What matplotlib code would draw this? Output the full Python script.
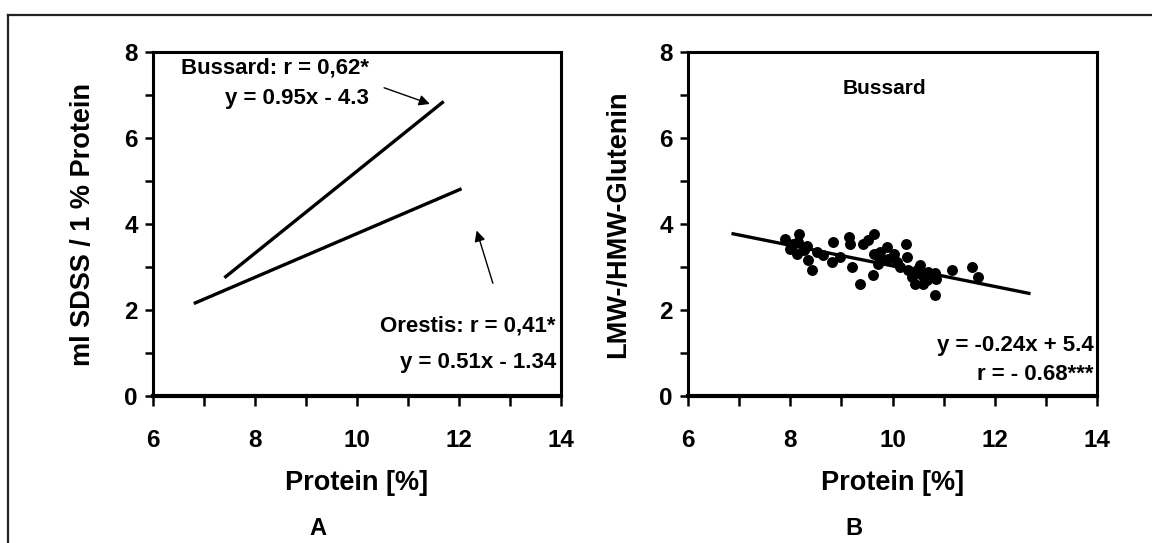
import matplotlib
matplotlib.use("Agg")
import matplotlib.pyplot as plt
from matplotlib.lines import Line2D
from matplotlib.ticker import MultipleLocator

plt.rcParams['font.family'] = ['Liberation Sans', 'DejaVu Sans']
plt.rcParams['font.weight'] = 'bold'

# ---- Data ----
# Panel A: regression lines (endpoints)
bussard_x = [7.4, 11.7]
bussard_y = [2.75, 6.85]
orestis_x = [6.8, 12.05]
orestis_y = [2.15, 4.82]

# Panel B: scatter (Bussard) and regression line
scatter_x = [7.90, 8.18, 8.00, 8.16, 8.13, 8.32, 8.35, 8.42, 8.52, 8.65,
             8.83, 8.81, 8.97, 9.14, 9.17, 9.20, 9.37, 9.43, 9.53, 9.63,
             9.61, 9.63, 9.72, 9.76, 9.89, 9.92, 10.02, 10.08, 10.15, 10.27,
             10.28, 10.31, 10.38, 10.44, 10.54, 10.57, 10.67, 10.70, 10.83, 10.83,
             10.85, 11.16, 11.55, 11.68, 8.06, 8.26, 9.76, 10.48, 10.60]
scatter_y = [3.66, 3.77, 3.43, 3.58, 3.31, 3.50, 3.17, 2.92, 3.35, 3.27,
             3.58, 3.12, 3.23, 3.70, 3.54, 2.99, 2.61, 3.54, 3.62, 3.77,
             2.81, 3.31, 3.08, 3.35, 3.46, 3.19, 3.31, 3.12, 3.00, 3.54,
             3.23, 2.92, 2.77, 2.61, 3.04, 2.81, 2.69, 2.88, 2.85, 2.34,
             2.73, 2.92, 3.00, 2.77, 3.54, 3.39, 3.19, 2.92, 2.61]
fit_x = [6.85, 12.7]
fit_y = [3.78, 2.38]

x_ticks = [6, 8, 10, 12, 14]
y_ticks = [0, 2, 4, 6, 8]
xlabel = "Protein [%]"
ylabel_a = "ml SDSS / 1 % Protein"
ylabel_b = "LMW-/HMW-Glutenin"

# ---- Figure ----
W, H = 1152, 543
fig = plt.figure(figsize=(W / 100, H / 100), dpi=100)

# outer frame (cropped on right and bottom)
fig.add_artist(Line2D([8 / W, 1.0], [1 - 15 / H, 1 - 15 / H], color='#222222', lw=1.6))
fig.add_artist(Line2D([8 / W, 8 / W], [0.0, 1 - 15 / H], color='#222222', lw=1.6))

ax_bottom = 1 - 396 / H
ax_height = (396 - 52) / H
axA = fig.add_axes([153 / W, ax_bottom, (561 - 153) / W, ax_height])
axB = fig.add_axes([688 / W, ax_bottom, (1097 - 688) / W, ax_height])


def style(ax, ylabel, panel, panel_x):
    ax.set_xlim(6, 14)
    ax.set_ylim(0, 8)
    ax.set_xticks(x_ticks)
    ax.set_yticks(y_ticks)
    ax.xaxis.set_minor_locator(MultipleLocator(1))
    ax.yaxis.set_minor_locator(MultipleLocator(1))
    for s in ax.spines.values():
        s.set_linewidth(2.2)
    ax.spines['bottom'].set_linewidth(3.0)
    ax.tick_params(axis='x', which='both', direction='out', length=7, width=1.8,
                   pad=17, labelsize=17.5)
    ax.tick_params(axis='y', which='both', direction='out', length=6, width=1.8,
                   pad=5, labelsize=17.5)
    for lab in ax.get_xticklabels() + ax.get_yticklabels():
        lab.set_fontweight('bold')
    ax.set_xlabel(xlabel, fontsize=19.5, fontweight='bold', labelpad=13)
    ax.set_ylabel(ylabel, fontsize=19.5, fontweight='bold', labelpad=20)
    ax.text(panel_x, -0.384, panel, transform=ax.transAxes, ha='center', va='center',
            fontsize=17, fontweight='bold')


style(axA, ylabel_a, "A", 0.405)
style(axB, ylabel_b, "B", 0.405)

# Panel A
axA.plot(bussard_x, bussard_y, color='black', lw=2.4, solid_capstyle='butt')
axA.plot(orestis_x, orestis_y, color='black', lw=2.4, solid_capstyle='butt')
axA.text(10.23, 7.63, "Bussard: r = 0,62*", ha='right', va='center', fontsize=16, fontweight='bold')
axA.text(10.23, 6.93, "y = 0.95x - 4.3", ha='right', va='center', fontsize=16, fontweight='bold')
axA.annotate("", xy=(11.48, 6.77), xytext=(10.48, 7.19),
             arrowprops=dict(arrowstyle='-|>', lw=1.0, color='black', mutation_scale=16))
axA.annotate("", xy=(12.33, 3.91), xytext=(12.68, 2.56),
             arrowprops=dict(arrowstyle='-|>', lw=1.0, color='black', mutation_scale=16))
axA.text(13.9, 1.63, "Orestis: r = 0,41*", ha='right', va='center', fontsize=16, fontweight='bold')
axA.text(13.9, 0.77, "y = 0.51x - 1.34", ha='right', va='center', fontsize=16, fontweight='bold')

# Panel B
axB.plot(fit_x, fit_y, color='black', lw=2.4, solid_capstyle='butt', zorder=2)
axB.scatter(scatter_x, scatter_y, s=62, color='black', zorder=3, linewidths=0)
axB.text(9.85, 7.15, "Bussard", ha='center', va='center', fontsize=15, fontweight='bold')
axB.text(13.93, 1.18, "y = -0.24x + 5.4", ha='right', va='center', fontsize=16, fontweight='bold')
axB.text(13.93, 0.51, "r = - 0.68***", ha='right', va='center', fontsize=16, fontweight='bold')

fig.savefig("out.png", dpi=100)
